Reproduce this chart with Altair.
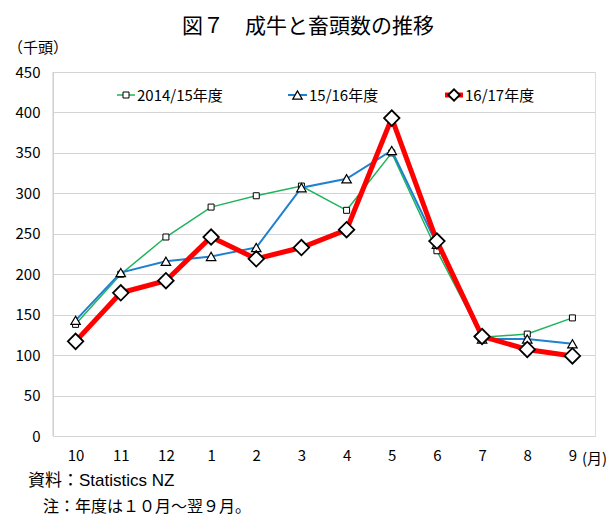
import altair as alt
import pandas as pd

months = ["10", "11", "12", "1", "2", "3", "4", "5", "6", "7", "8", "9"]
s1415 = [138, 200, 246, 283, 297, 309, 279, 350, 229, 122, 126, 146]
s1516 = [143, 202, 216, 222, 233, 307, 318, 353, 237, 120, 120, 114]
s1617 = [117, 177, 192, 246, 219, 233, 255, 393, 241, 123, 107, 99]
series_names = ["2014/15年度", "15/16年度", "16/17年度"]

FONT = "Noto Sans CJK JP"
JP = "Noto Sans CJK JP"
LAT = "Liberation Sans, Noto Sans CJK JP"

df = pd.DataFrame({
    "month": months * 3,
    "value": s1415 + s1516 + s1617,
    "series": sum([[n] * len(months) for n in series_names], []),
})

xenc = alt.X("month:N", sort=months,
             scale=alt.Scale(type="point", padding=0.5),
             axis=alt.Axis(title=None, labelAngle=0, ticks=False, domain=False,
                           labelFont=FONT, labelFontSize=15, labelColor="black",
                           labelPadding=12, grid=False))
yenc = alt.Y("value:Q", scale=alt.Scale(domain=[0, 450], nice=False),
             axis=alt.Axis(title=None, values=list(range(0, 451, 50)), ticks=False,
                           domain=False, labelFont=FONT, labelFontSize=15,
                           labelColor="black", labelPadding=13,
                           gridColor="#d4d4d4", gridWidth=1))

styles = {
    "2014/15年度": dict(color="#1fb35b", width=1.5, shape="square", size=36, sw=1.0),
    "15/16年度": dict(color="#1f80d0", width=2, shape="triangle-up", size=90, sw=1.2),
    "16/17年度": dict(color="#ff0000", width=5, shape="diamond", size=240, sw=1.8),
}

layers = []
# left border line
layers.append(alt.Chart(pd.DataFrame({"a": [0]})).mark_rule(color="#c8c8c8", strokeWidth=1).encode(
    x=alt.value(0), y=alt.value(0), y2=alt.value(364)))

for name in series_names:
    st = styles[name]
    base = alt.Chart(df[df.series == name])
    layers.append(base.mark_line(color=st["color"], strokeWidth=st["width"]).encode(x=xenc, y=yenc))
    layers.append(base.mark_point(shape=st["shape"], size=st["size"], filled=True, fill="white",
                                  stroke="black", strokeWidth=st["sw"], opacity=1).encode(x=xenc, y=yenc))

# legend
leg = [("2014/15年度", 64, 82), ("15/16年度", 235, 254), ("16/17年度", 392, 410)]
for name, x0, x1 in leg:
    st = styles[name]
    one = alt.Chart(pd.DataFrame({"t": [name]}))
    layers.append(one.mark_rule(color=st["color"], strokeWidth=st["width"]).encode(
        x=alt.value(x0), x2=alt.value(x1), y=alt.value(23)))
    layers.append(one.mark_point(shape=st["shape"], size=st["size"] * (0.55 if name == "16/17年度" else 1.0),
                                 filled=True, fill="white", stroke="black",
                                 strokeWidth=st["sw"], opacity=1).encode(
        x=alt.value((x0 + x1) / 2), y=alt.value(23)))
    layers.append(one.mark_text(align="left", baseline="middle", font=FONT, fontSize=15,
                                color="black").encode(
        x=alt.value(x1 + 2), y=alt.value(24), text="t:N"))

def txt(s, x, y, size, align="left", font=JP):
    return alt.Chart(pd.DataFrame({"t": [s]})).mark_text(
        align=align, baseline="middle", font=font, fontSize=size, color="black").encode(
        x=alt.value(x), y=alt.value(y), text="t:N")

layers.append(txt("図７　成牛と畜頭数の推移", 255, -45, 21, align="center"))
layers.append(txt("（千頭）", -45, -24, 15))
layers.append(txt("(月)", 529, 387, 15))
layers.append(txt("資料：Statistics NZ", -25, 409, 17, font=LAT))
layers.append(txt("注：年度は１０月～翌９月。", -10, 435, 16))

chart = alt.layer(*layers).properties(
    width=542, height=364,
    autosize=alt.AutoSizeParams(type="none"),
    padding={"left": 45, "top": 64, "right": 13, "bottom": 83},
).configure_view(stroke=None).configure(background="white")

chart.save("out.html", embed_options={"renderer": "svg", "actions": False})
